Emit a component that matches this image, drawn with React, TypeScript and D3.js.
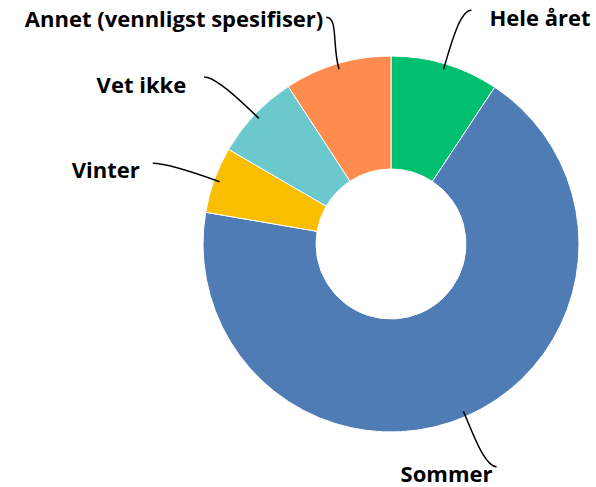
import { arc, pie, PieArcDatum } from 'd3'

const categories = ['Hele året', 'Sommer', 'Vinter', 'Vet ikke', 'Annet (vennligst spesifiser)']
const values = [9.3, 68.4, 5.7, 7.4, 9.2]
const colors = ['#00bf6f', '#507cb6', '#f9be00', '#6bc8cd', '#ff8b4f']

// leader end nudge [dx, dy] and text offset from leader end [dx, dy, anchor]
const leaderNudge: [number, number][] = [
  [9, 4],
  [7, -5],
  [-5, 4],
  [-7, 4],
  [6, 11],
]
const textOffset: [number, number, 'start' | 'end'][] = [
  [18, 16, 'start'],
  [-4, 15, 'end'],
  [-13, 15, 'end'],
  [-18, 16, 'end'],
  [-3, 10, 'end'],
]

const W = 596
const H = 487
const cx = 391
const cy = 244
const R = 188
const r0 = 75

type Slice = { name: string; value: number; color: string }

export default function App() {
  const data: Slice[] = categories.map((name, i) => ({ name, value: values[i], color: colors[i] }))
  const slices = pie<Slice>().sort(null).value((d) => d.value)(data)
  const arcGen = arc<PieArcDatum<Slice>>().innerRadius(r0).outerRadius(R)

  const at = (a: number, rad: number) => [rad * Math.sin(a), -rad * Math.cos(a)]

  return (
    <svg width={W} height={H} style={{ position: 'absolute', left: 0, top: 0 }}>
      <g transform={`translate(${cx},${cy})`}>
        {slices.map((s) => (
          <path key={s.data.name} d={arcGen(s) ?? ''} fill={s.data.color} stroke="#fff" strokeWidth={1} />
        ))}
        {slices.map((s, i) => {
          const mid = (s.startAngle + s.endAngle) / 2
          const [px, py] = at(mid, R * 0.97)
          const [bx, by] = at(mid, R * 1.32)
          const lx = bx + leaderNudge[i][0]
          const ly = by + leaderNudge[i][1]
          const [ox, oy] = at(mid, R * 1.1)
          const side = lx > 0 ? 1 : -1
          const c1x = lx - side * 12
          const d = `M${lx},${ly}C${c1x},${ly} ${ox},${oy} ${px},${py}`
          const [dx, dy, anchor] = textOffset[i]
          return (
            <g key={s.data.name}>
              <path d={d} fill="none" stroke="#000" strokeWidth={1.5} />
              <text
                x={lx + dx}
                y={ly + dy}
                textAnchor={anchor}
                fontFamily="'Open Sans', sans-serif"
                fontWeight={700}
                fontSize={22}
                fill="#000"
              >
                {s.data.name}
              </text>
            </g>
          )
        })}
      </g>
    </svg>
  )
}
